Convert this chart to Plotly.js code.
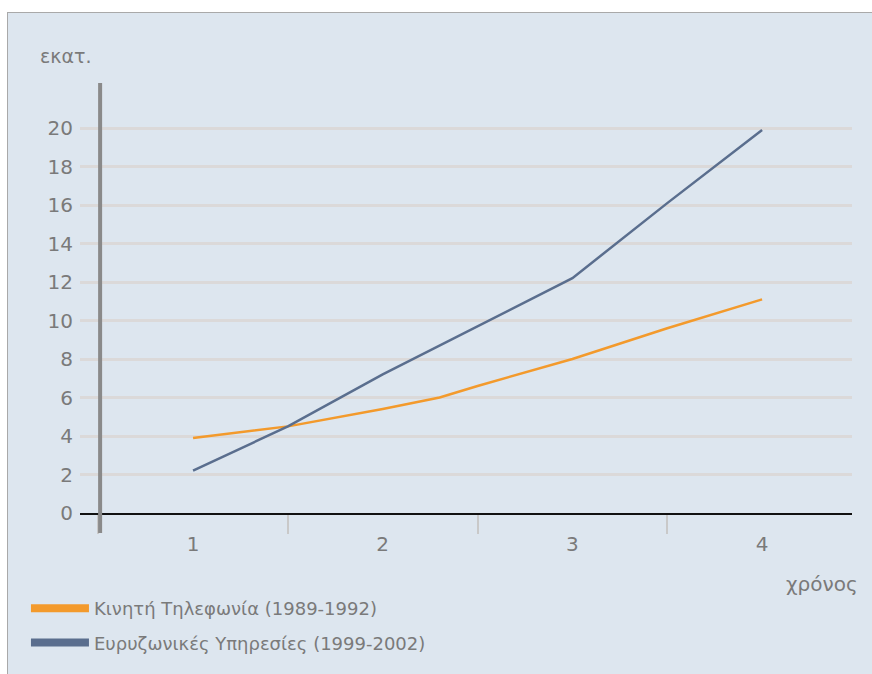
<!DOCTYPE html>
<html>
<head>
<meta charset="utf-8">
<script src="https://cdn.plot.ly/plotly-3.0.1.min.js"></script>
<style>
  html, body { margin: 0; padding: 0; background: #ffffff; width: 872px; height: 674px; overflow: hidden; }
  #chart { position: absolute; left: 7px; top: 12px; width: 864px; height: 661px;
           border-left: 1px solid #a9a9a9; border-top: 1px solid #a9a9a9; }
</style>
</head>
<body>
<div id="chart"></div>
<script>
// ---- data ----
const seriesNames = ["Κινητή Τηλεφωνία (1989-1992)", "Ευρυζωνικές Υπηρεσίες (1999-2002)"];
const mobileX = [1, 1.5, 2, 2.3, 2.5, 3, 3.5, 4];
const mobileY = [3.9, 4.5, 5.4, 6.0, 6.6, 8.0, 9.6, 11.1];
const broadbandX = [1, 1.5, 2, 2.5, 3, 3.5, 4];
const broadbandY = [2.2, 4.5, 7.2, 9.7, 12.2, 16.1, 19.9];
const xTickVals = [1, 2, 3, 4];
const xTickText = ["1", "2", "3", "4"];
const yTickVals = [0, 2, 4, 6, 8, 10, 12, 14, 16, 18, 20];
const yTitle = "εκατ.";
const xTitle = "χρόνος";

const colors = ["#f39a2c", "#5a6e8e"];
const font = "DejaVu Sans, Liberation Sans, sans-serif";
const textColor = "#7a7a7a";
const bg = "#dde6ef";

const traces = [
  { x: mobileX, y: mobileY, type: "scatter", mode: "lines", name: seriesNames[0],
    line: { color: colors[0], width: 2.5 }, showlegend: false },
  { x: broadbandX, y: broadbandY, type: "scatter", mode: "lines", name: seriesNames[1],
    line: { color: colors[1], width: 2.5 }, showlegend: false },
  // legend swatches (thicker)
  { x: [null], y: [null], type: "scatter", mode: "lines", name: seriesNames[0],
    legendgroup: "a", line: { color: colors[0], width: 8 }, showlegend: true },
  { x: [null], y: [null], type: "scatter", mode: "lines", name: seriesNames[1],
    legendgroup: "b", line: { color: colors[1], width: 8 }, showlegend: true }
];

const layout = {
  width: 864, height: 661,
  margin: { l: 72, r: 20, t: 70, b: 161, pad: 0 },
  paper_bgcolor: bg,
  plot_bgcolor: bg,
  font: { family: font, color: textColor, size: 19 },
  xaxis: {
    range: [0.404, 4.474],
    tickvals: xTickVals, ticktext: xTickText,
    ticks: "", showgrid: false, zeroline: false,
    showline: true, linecolor: "#111111", linewidth: 2,
    ticklabelstandoff: 12,
    tickfont: { family: font, size: 20, color: textColor },
    minor: { tick0: 1.5, dtick: 1, ticks: "outside", ticklen: 19, tickwidth: 2,
             tickcolor: "#c9c9c9", showgrid: false },
    fixedrange: true
  },
  yaxis: {
    range: [0, 22.34],
    tickvals: yTickVals,
    ticks: "", showgrid: true, gridcolor: "#dbd9d9", gridwidth: 3,
    zeroline: false, showline: false,
    ticklabelstandoff: 6,
    tickfont: { family: font, size: 20, color: textColor },
    fixedrange: true
  },
  shapes: [
    { type: "line", xref: "x", yref: "paper", x0: 0.51, x1: 0.51, y0: -0.0465, y1: 1,
      line: { color: "#8a8a8a", width: 4 }, layer: "above" }
  ],
  annotations: [
    { text: yTitle, xref: "paper", yref: "paper", x: -0.0545, y: 1.0628,
      xanchor: "left", yanchor: "middle", showarrow: false,
      font: { family: font, size: 19, color: textColor } },
    { text: xTitle, xref: "paper", yref: "paper", x: 1.0104, y: -0.165,
      xanchor: "right", yanchor: "middle", showarrow: false,
      font: { family: font, size: 20, color: textColor } }
  ],
  legend: {
    x: -0.07, y: -0.179, xanchor: "left", yanchor: "top",
    orientation: "v", bgcolor: "rgba(0,0,0,0)", itemwidth: 58,
    font: { family: font, size: 18, color: textColor },
    tracegroupgap: 8
  },
  showlegend: true
};

Plotly.newPlot("chart", traces, layout, { displayModeBar: false, staticPlot: true });
</script>
</body>
</html>
